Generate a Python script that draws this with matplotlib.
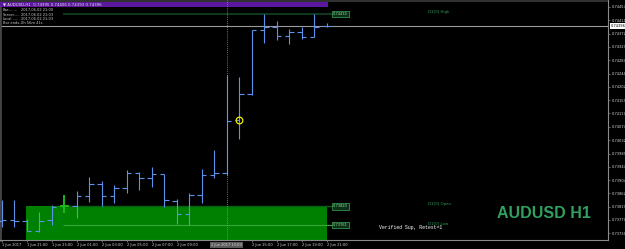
import matplotlib
matplotlib.use('Agg')
import matplotlib.pyplot as plt
import matplotlib.transforms as mtransforms
from matplotlib.patches import Rectangle

# AUDUSD H1 bars, 1 Jun 19:00 .. 2 Jun 21:00
opens = [0.73774, 0.73777, 0.73774, 0.73743, 0.73777, 0.73820, 0.73822, 0.73852, 0.73891,
         0.73854, 0.73880, 0.73926, 0.73910, 0.73923, 0.73839, 0.73795, 0.73857, 0.73919,
         0.73926, 0.74096, 0.74179, 0.74383, 0.74394, 0.74364, 0.74378, 0.74362, 0.74395]
highs = [0.73841, 0.73841, 0.73780, 0.73803, 0.73825, 0.73857, 0.73870, 0.73914, 0.73902,
         0.73889, 0.73937, 0.73931, 0.73946, 0.73923, 0.73843, 0.73862, 0.73940, 0.74000,
         0.74240, 0.74234, 0.74383, 0.74434, 0.74412, 0.74386, 0.74394, 0.74434, 0.74406]
lows = [0.73755, 0.73755, 0.73741, 0.73739, 0.73761, 0.73800, 0.73784, 0.73835, 0.73822,
        0.73831, 0.73864, 0.73873, 0.73883, 0.73818, 0.73764, 0.73761, 0.73832, 0.73910,
        0.73921, 0.74036, 0.74176, 0.74341, 0.74351, 0.74338, 0.74354, 0.74360, 0.74393]
closes = [0.73777, 0.73775, 0.73743, 0.73774, 0.73819, 0.73820, 0.73852, 0.73891, 0.73854,
          0.73880, 0.73926, 0.73910, 0.73923, 0.73841, 0.73795, 0.73857, 0.73919, 0.73926,
          0.74093, 0.74179, 0.74383, 0.74394, 0.74364, 0.74378, 0.74362, 0.74392, 0.74396]
day_start = 5        # 2 Jun 00:00
cross_bar = 18       # 2 Jun 13:00
signal_bar = 19

# support zone
zone_top = 0.73820
zone_bottom = 0.73650

price_ticks = [0.74457, 0.74414, 0.74372, 0.74329, 0.74287, 0.74244, 0.74202, 0.74159, 0.74117,
               0.74074, 0.74032, 0.73989, 0.73947, 0.73904, 0.73862, 0.73819, 0.73777, 0.73734]
time_tick_pos = [0, 2, 4, 6, 8, 10, 12, 14, 20, 22, 24, 26]
time_tick_labels = ['1 Jun 2017', '1 Jun 21:00', '1 Jun 23:00', '2 Jun 01:00', '2 Jun 03:00',
                    '2 Jun 05:00', '2 Jun 07:00', '2 Jun 09:00', '2 Jun 15:00', '2 Jun 17:00',
                    '2 Jun 19:00', '2 Jun 21:00']
cross_label = '2 Jun 2017 13:00'
info_keys = ['Bar........', 'Server.....', 'Local......', 'Bar ends..']
info_vals = ['2017.06.02 21:00', '2017.06.02 21:03', '2017.06.02 21:03', '0h 56m 41s']

bar_col = '#5c92ec'
axis_col = '#8a8a8a'
txt_col = '#d4d4d4'

fig = plt.figure(figsize=(6.25, 2.49), dpi=100, facecolor='black')
ax = fig.add_axes([0, 9 / 249, 608 / 625, 240 / 249], facecolor='black')
ax.set_xlim(-0.136, 48.5)
ax.set_ylim(0.73713, 0.74479)

# zone box
ax.add_patch(Rectangle((1.95, zone_bottom), 26.05 - 1.95, zone_top - zone_bottom,
                       facecolor='#008000', edgecolor='none', zorder=1))

# daily levels
d1_high = max(highs[day_start:])
d1_open = opens[day_start]
d1_low = min(lows[day_start:])
x0, x1 = day_start - 0.1, 26.4
ax.hlines(d1_high, x0, x1, color='#0f4020', lw=1.3, zorder=2)
ax.hlines(d1_open, x0, x1, color='#0a5c16', lw=1.0, zorder=2)
ax.hlines(d1_low, x0, x1, color='#3aa53a', lw=0.8, zorder=2)
for lvl, name in [(d1_high, 'High'), (d1_open, 'Open'), (d1_low, 'Low')]:
    ax.text(26.5, lvl, f'{lvl:.5f}', fontsize=2.6, color='#8fe0a0', ha='left', va='center',
            bbox=dict(boxstyle='square,pad=0.3', fc='#0c3016', ec='#3aa55a', lw=0.5), zorder=5)
    ax.text(34.1, lvl, f'D1[0] {name}', fontsize=2.8, color='#2e9e5a', ha='left',
            va='bottom', zorder=5)

# current price line
ax.axhline(closes[-1], color='#9a9a9a', lw=0.8, zorder=2)

# OHLC bars
xs = list(range(len(opens)))
cols = [bar_col] * len(xs)
cols[day_start] = '#20c020'
lws = [0.8] * len(xs)
lws[day_start] = 1.3
ax.vlines(xs, lows, highs, colors=cols, lw=lws, zorder=3)
ax.hlines(opens, [x - 0.36 for x in xs], xs, colors=cols, lw=lws, zorder=3)
ax.hlines(closes, xs, [x + 0.36 for x in xs], colors=cols, lw=lws, zorder=3)

# signal marker
ax.plot(signal_bar, opens[signal_bar], 'o', ms=4.8, mfc='none', mec='#f0f000', mew=0.9, zorder=4)

# crosshair / separator line
ax.axvline(cross_bar, color='#9a9a9a', lw=0.6, ls=(0, (1, 1.5)), zorder=6)

ax.text(30.2, d1_low, 'Verified Sup, Retest=1', fontsize=3.5, color='white',
        family='Liberation Mono', ha='left', va='top', zorder=5)

# axes styling
ax.spines['top'].set_visible(False)
ax.spines['right'].set_color(axis_col)
ax.spines['bottom'].set_color(axis_col)
ax.spines['left'].set_color('#444444')
ax.spines['left'].set_linewidth(2)
ax.yaxis.tick_right()
ax.set_yticks(price_ticks)
ax.set_yticklabels([f'{p:.5f}' for p in price_ticks])
ax.set_xticks(time_tick_pos)
ax.set_xticklabels(time_tick_labels, ha='left')
ax.tick_params(axis='both', colors=axis_col, labelcolor=txt_col, labelsize=2.6,
               length=1.5, width=0.5, pad=1)

# current price tag on the scale
trans_y = mtransforms.blended_transform_factory(ax.transAxes, ax.transData)
ax.text(1.004, closes[-1], f'{closes[-1]:.5f}', transform=trans_y, fontsize=2.6, color='black',
        ha='left', va='center', clip_on=False, zorder=7,
        bbox=dict(boxstyle='square,pad=0.2', fc='white', ec='none'))

# crosshair time tag
trans_x = mtransforms.blended_transform_factory(ax.transData, ax.transAxes)
ax.text(cross_bar, -0.012, cross_label, transform=trans_x, fontsize=2.6, color='#e0e0e0',
        ha='center', va='top', clip_on=False, zorder=7,
        bbox=dict(boxstyle='square,pad=0.35', fc='#5a5a5a', ec='none'))

# header strip
ax.add_patch(Rectangle((0, 0.993), 1, 0.007, transform=ax.transAxes,
                       facecolor='#303030', edgecolor='none', zorder=5, clip_on=False))
ax.add_patch(Rectangle((0, 0.9696), 328 / 608, 0.0234, transform=ax.transAxes,
                       facecolor='#5b189e', edgecolor='none', zorder=5))
header = f'▼ AUDUSD,H1  {opens[-1]:.5f} {highs[-1]:.5f} {lows[-1]:.5f} {closes[-1]:.5f}'
fig.text(3 / 625, 1 - 4.6 / 249, header, fontsize=2.8, color='#e6e6e6', va='center', ha='left')
for i, (k, v) in enumerate(zip(info_keys, info_vals)):
    yy = 1 - (10 + 4.5 * i) / 249
    fig.text(3 / 625, yy, k, fontsize=2.6, color='#c8c8c8', va='center', ha='left')
    fig.text(21 / 625, yy, v, fontsize=2.6, color='#c8c8c8', va='center', ha='left')

fig.text(543.5 / 625, 1 - 213 / 249, 'AUDUSD H1', fontsize=11.5, fontweight='bold',
         family='Liberation Sans', color='#30a060', ha='center', va='center')

fig.savefig('out.png', dpi=100, facecolor='black')
